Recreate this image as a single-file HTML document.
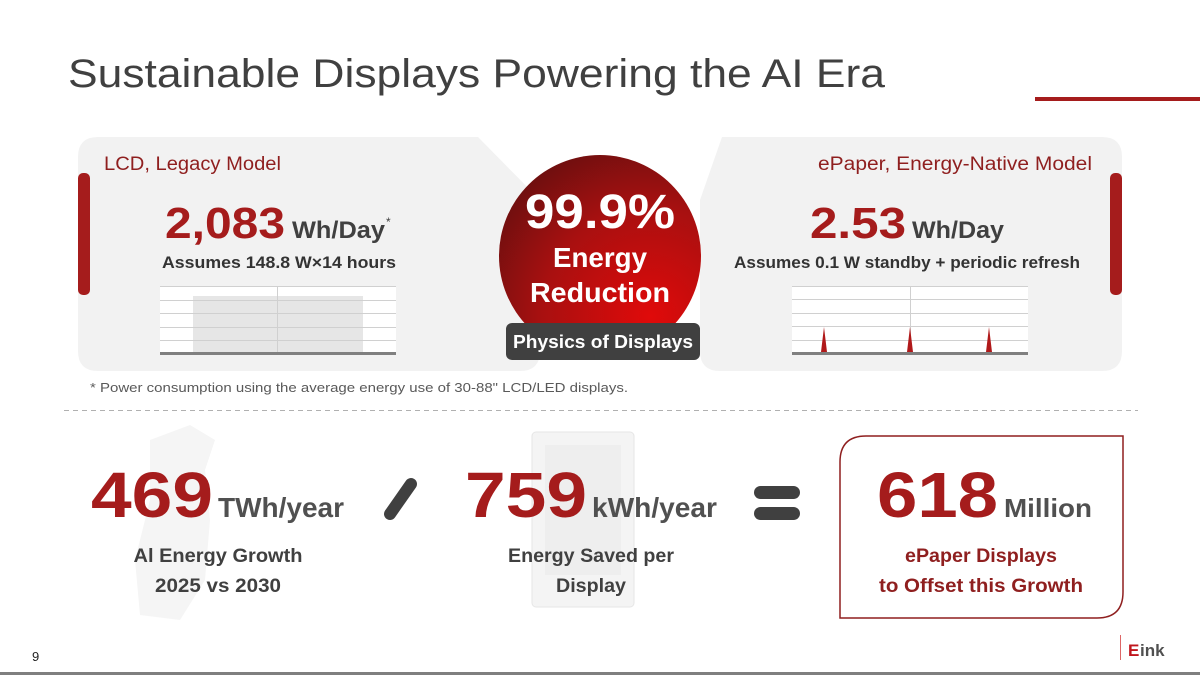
<!DOCTYPE html>
<html><head><meta charset="utf-8"><style>
html,body{margin:0;padding:0;background:#fff;}
svg{display:block;font-family:"Liberation Sans",sans-serif;}
</style></head><body>
<svg width="1200" height="675" viewBox="0 0 1200 675" xmlns="http://www.w3.org/2000/svg">
<defs>
<radialGradient id="cg" cx="0.75" cy="0.8" r="0.9">
<stop offset="0" stop-color="#e00a0a"/><stop offset="0.6" stop-color="#a81010"/><stop offset="1" stop-color="#6e0f0f"/>
</radialGradient>
</defs>
<rect width="1200" height="675" fill="#fff"/>
<text x="68" y="87" font-size="40" fill="#404040" textLength="817" lengthAdjust="spacingAndGlyphs">Sustainable Displays Powering the AI Era</text>
<rect x="1035" y="97" width="165" height="4" fill="#a51c1c"/>

<path d="M98 137 L478 137 L540 200 L540 351 Q540 371 520 371 L98 371 Q78 371 78 351 L78 157 Q78 137 98 137 Z" fill="#f2f2f2"/>
<rect x="78" y="173" width="12" height="122" rx="5" fill="#a51c1c"/>
<path d="M700 200 L722 137 L1102 137 Q1122 137 1122 157 L1122 351 Q1122 371 1102 371 L720 371 Q700 371 700 351 Z" fill="#f2f2f2"/>
<rect x="1110" y="173" width="12" height="122" rx="5" fill="#a51c1c"/>

<text x="104" y="170" font-size="19" fill="#8f1f1f" textLength="177" lengthAdjust="spacingAndGlyphs">LCD, Legacy Model</text>
<text x="165" y="238" font-size="44" font-weight="bold" fill="#a51c1c" textLength="120" lengthAdjust="spacingAndGlyphs">2,083</text>
<text x="292" y="238" font-size="24" font-weight="bold" fill="#404040" textLength="93" lengthAdjust="spacingAndGlyphs">Wh/Day</text>
<text x="386" y="226" font-size="12" fill="#404040">*</text>
<text x="162" y="268" font-size="17" font-weight="bold" fill="#333" textLength="234" lengthAdjust="spacingAndGlyphs">Assumes 148.8 W×14 hours</text>
<g>
<rect x="160" y="286" width="236" height="68" fill="#fff"/>
<rect x="193" y="296" width="170" height="58" fill="#e6e6e6"/>
<g stroke="#d0d0d0" stroke-width="1">
<line x1="160" y1="286.5" x2="396" y2="286.5"/><line x1="160" y1="300.5" x2="396" y2="300.5"/><line x1="160" y1="313.5" x2="396" y2="313.5"/><line x1="160" y1="327.5" x2="396" y2="327.5"/><line x1="160" y1="340.5" x2="396" y2="340.5"/><line x1="277.5" y1="286" x2="277.5" y2="354"/>
</g>
<rect x="160" y="352" width="236" height="3" fill="#808080"/>
</g>

<text x="1092" y="170" font-size="19" fill="#8f1f1f" text-anchor="end" textLength="274" lengthAdjust="spacingAndGlyphs">ePaper, Energy-Native Model</text>
<text x="810" y="238" font-size="44" font-weight="bold" fill="#a51c1c" textLength="96" lengthAdjust="spacingAndGlyphs">2.53</text>
<text x="912" y="238" font-size="24" font-weight="bold" fill="#404040" textLength="92" lengthAdjust="spacingAndGlyphs">Wh/Day</text>
<text x="734" y="268" font-size="17" font-weight="bold" fill="#333" textLength="346" lengthAdjust="spacingAndGlyphs">Assumes 0.1 W standby + periodic refresh</text>
<g>
<rect x="792" y="286" width="236" height="68" fill="#fff"/>
<g stroke="#d0d0d0" stroke-width="1">
<line x1="792" y1="286.5" x2="1028" y2="286.5"/><line x1="792" y1="299.5" x2="1028" y2="299.5"/><line x1="792" y1="313.5" x2="1028" y2="313.5"/><line x1="792" y1="326.5" x2="1028" y2="326.5"/><line x1="792" y1="340.5" x2="1028" y2="340.5"/><line x1="910.5" y1="286" x2="910.5" y2="354"/>
</g>
<path d="M821 352 L824 327 L827 352 Z M907 352 L910 327 L913 352 Z M986 352 L989 327 L992 352 Z" fill="#b0191a"/>
<rect x="792" y="352" width="236" height="3" fill="#808080"/>
</g>

<circle cx="600" cy="256" r="101" fill="url(#cg)"/>
<text x="600" y="228" font-size="48" font-weight="bold" fill="#fff" text-anchor="middle" textLength="150" lengthAdjust="spacingAndGlyphs">99.9%</text>
<text x="600" y="267" font-size="28" font-weight="bold" fill="#fff" text-anchor="middle" textLength="94" lengthAdjust="spacingAndGlyphs">Energy</text>
<text x="600" y="302" font-size="28" font-weight="bold" fill="#fff" text-anchor="middle" textLength="140" lengthAdjust="spacingAndGlyphs">Reduction</text>
<rect x="506" y="323" width="194" height="37" rx="6" fill="#404040"/>
<text x="603" y="348" font-size="18" font-weight="bold" fill="#fff" text-anchor="middle" textLength="180" lengthAdjust="spacingAndGlyphs">Physics of Displays</text>

<text x="90" y="392" font-size="13" fill="#595959" textLength="538" lengthAdjust="spacingAndGlyphs">* Power consumption using the average energy use of 30-88" LCD/LED displays.</text>
<line x1="64" y1="410.5" x2="1138" y2="410.5" stroke="#b0b0b0" stroke-dasharray="5,4"/>

<path d="M150 440 L190 425 L215 440 L205 470 L210 520 L205 580 L180 620 L140 615 L135 560 L150 500 Z" fill="#f5f5f5"/>
<rect x="532" y="432" width="102" height="175" rx="4" fill="#f4f4f4" stroke="#e6e6e6"/>
<rect x="545" y="445" width="76" height="130" fill="#eeeeee"/>

<text x="91" y="517" font-size="64" font-weight="bold" fill="#a51c1c" textLength="122" lengthAdjust="spacingAndGlyphs">469</text>
<text x="218" y="517" font-size="28" font-weight="bold" fill="#505050" textLength="126" lengthAdjust="spacingAndGlyphs">TWh/year</text>
<text x="218" y="562" font-size="19" font-weight="bold" fill="#404040" text-anchor="middle" textLength="169" lengthAdjust="spacingAndGlyphs">Al Energy Growth</text>
<text x="218" y="592" font-size="19" font-weight="bold" fill="#404040" text-anchor="middle" textLength="126" lengthAdjust="spacingAndGlyphs">2025 vs 2030</text>

<line x1="390" y1="514" x2="411" y2="484" stroke="#404040" stroke-width="12" stroke-linecap="round"/>

<text x="465" y="517" font-size="64" font-weight="bold" fill="#a51c1c" textLength="122" lengthAdjust="spacingAndGlyphs">759</text>
<text x="592" y="517" font-size="28" font-weight="bold" fill="#505050" textLength="125" lengthAdjust="spacingAndGlyphs">kWh/year</text>
<text x="591" y="562" font-size="19" font-weight="bold" fill="#404040" text-anchor="middle" textLength="166" lengthAdjust="spacingAndGlyphs">Energy Saved per</text>
<text x="591" y="592" font-size="19" font-weight="bold" fill="#404040" text-anchor="middle" textLength="70" lengthAdjust="spacingAndGlyphs">Display</text>

<rect x="754" y="486" width="46" height="13" rx="6.5" fill="#404040"/>
<rect x="754" y="507" width="46" height="13" rx="6.5" fill="#404040"/>

<path d="M866 436 L1123 436 L1123 592 Q1123 618 1097 618 L840 618 L840 462 Q840 436 866 436 Z" fill="#fff" stroke="#8f1f1f" stroke-width="1.5"/>
<text x="877" y="517" font-size="64" font-weight="bold" fill="#a51c1c" textLength="121" lengthAdjust="spacingAndGlyphs">618</text>
<text x="1004" y="517" font-size="26" font-weight="bold" fill="#505050" textLength="88" lengthAdjust="spacingAndGlyphs">Million</text>
<text x="981" y="562" font-size="19" font-weight="bold" fill="#8f1f1f" text-anchor="middle" textLength="152" lengthAdjust="spacingAndGlyphs">ePaper Displays</text>
<text x="981" y="592" font-size="19" font-weight="bold" fill="#8f1f1f" text-anchor="middle" textLength="204" lengthAdjust="spacingAndGlyphs">to Offset this Growth</text>

<text x="32" y="661" font-size="13" fill="#222">9</text>
<line x1="1120.5" y1="635" x2="1120.5" y2="660" stroke="#d66"/>
<text x="1128" y="656" font-size="17" font-weight="bold" fill="#c0161d">E</text>
<text x="1140" y="656" font-size="17" font-weight="bold" fill="#505050">ink</text>
<rect x="0" y="672" width="1200" height="3" fill="#7f7f7f"/>
</svg>
</body></html>
